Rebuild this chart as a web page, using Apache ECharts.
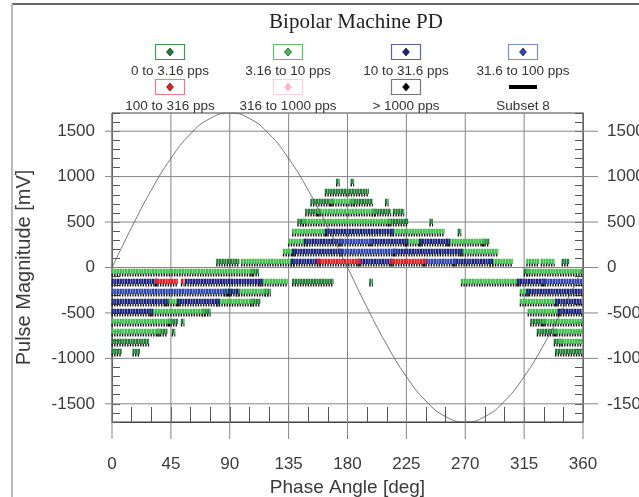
<!DOCTYPE html>
<html>
<head>
<meta charset="utf-8">
<title>Bipolar Machine PD</title>
<script src="https://cdn.jsdelivr.net/npm/echarts@6/dist/echarts.min.js"></script>
<style>
    html, body { margin: 0; padding: 0; background: #fff; }
    #chart { width: 639px; height: 497px; }
</style>
</head>
<body>
<div id="chart"></div>
<script>
// each run of pulses is [phase from, phase to, magnitude mV]
var rate0 = [ // 0 to 3.16 pps
    [172.6, 172.6, 935], [183.7, 183.7, 935],
    [164, 195, 825],
    [153, 168, 715], [184, 198, 715], [210, 210, 715],
    [149, 158, 605], [200, 212, 605], [216, 222, 605],
    [143, 147, 495], [212, 225, 495], [244, 244, 495],
    [265.6, 265.6, 385],
    [284, 287, 275],
    [81, 96, 55], [345, 348, 55],
    [107, 111, -55], [316, 318, -55],
    [139, 168, -165], [198, 198, -165],
    [118, 120, -275],
    [107, 112, -385],
    [70, 74, -495],
    [44, 49, -605], [54, 54, -605], [321, 330, -605],
    [36, 41, -715], [47, 47, -715], [326, 339, -715],
    [1, 27, -825], [339, 343, -825],
    [1, 6, -935], [17, 20, -935], [340, 358, -935]
];
var rate1 = [ // 3.16 to 10 pps
    [168, 184, 715],
    [158, 200, 605],
    [147, 212, 495],
    [139, 164, 385], [214, 253, 385],
    [136, 148, 275], [225, 236, 275], [257, 284, 275],
    [132, 139, 165], [267, 294, 165],
    [100, 138, 55], [290, 305, 55], [318, 325, 55], [329, 337, 55],
    [1, 107, -55], [318, 358, -55],
    [114, 133, -165], [268, 311, -165],
    [87, 90, -275], [96, 118, -275], [313, 318, -275],
    [42, 51, -385], [81, 107, -385], [313, 340, -385],
    [30, 70, -495], [319, 342, -495],
    [1, 44, -605], [330, 358, -605],
    [1, 36, -715], [339, 358, -715],
    [343, 358, -825]
];
var rate2 = [ // 10 to 31.6 pps
    [164, 214, 385],
    [148, 175, 275], [198, 225, 275], [236, 257, 275],
    [139, 175, 165], [216, 267, 165],
    [138, 158, 55], [189, 214, 55], [262, 290, 55],
    [1, 34, -165], [57, 114, -165], [311, 330, -165],
    [90, 96, -275], [318, 358, -275],
    [1, 42, -385], [51, 81, -385], [340, 358, -385],
    [1, 30, -495], [342, 358, -495]
];
var rate3 = [ // 31.6 to 100 pps
    [175, 198, 275],
    [175, 216, 165],
    [239, 262, 55],
    [330, 358, -165],
    [1, 87, -275]
];
var rate4 = [ // 100 to 316 pps
    [158, 189, 55], [214, 239, 55],
    [34, 49, -165], [54, 54, -165]
];
var rate5 = []; // 316 to 1000 pps
var rate6 = []; // > 1000 pps
var subset8 = [
    [0, 0], [15, 440], [30, 850], [45, 1200], [60, 1470], [75, 1640], [90, 1700],
    [105, 1640], [120, 1470], [135, 1200], [150, 850], [165, 440], [180, 0],
    [195, -440], [210, -850], [225, -1200], [240, -1470], [255, -1640], [270, -1700],
    [285, -1640], [300, -1470], [315, -1200], [330, -850], [345, -440], [360, 0]
];
var legendNames = ['0 to 3.16 pps', '3.16 to 10 pps', '10 to 31.6 pps', '31.6 to 100 pps',
    '100 to 316 pps', '316 to 1000 pps', '> 1000 pps', 'Subset 8'];
var xGridLines = [0, 45, 90, 135, 180, 225, 270, 315, 360];
var yGridLines = [-1500, -1000, -500, 0, 500, 1000, 1500];

var dotColors = ['#1b7f34', '#3dc24c', '#1a2383', '#2f44b5', '#ec1c24', '#ffb6c6', '#000000'],
    boxColors = ['#3d9b52', '#5cc468', '#5a62aa', '#7d8ad6', '#f07a86', '#ffd0d8', '#777777'],
    runs = [rate0, rate1, rate2, rate3, rate4, rate5, rate6],
    font = '"Liberation Sans", Arial, sans-serif',
    labelColor = '#3a3a3a';

var chart = echarts.init(document.getElementById('chart'));

var runItem = function (color) {
    return function (params, api) {
        var a = api.coord([api.value(0), api.value(2)]),
            b = api.coord([api.value(1), api.value(2)]),
            x1 = a[0] - 1.8, x2 = b[0] + 1.8, y = a[1];
        return {
            type: 'group',
            children: [
                {type: 'line', shape: {x1: x1, y1: y - 1.2, x2: x2, y2: y - 1.2},
                    style: {stroke: color, lineWidth: 5.2, lineDash: [2.3, 0.4]}},
                {type: 'line', shape: {x1: x1, y1: y + 2.6, x2: x2, y2: y + 2.6},
                    style: {stroke: '#141414', lineWidth: 2.6, lineDash: [1.4, 1.2]}}
            ]
        };
    };
};

var vLine = function (params, api) {
    var top = api.coord([api.value(0), 1700]),
        bottom = api.coord([api.value(0), -1700]);
    return {type: 'line', shape: {x1: top[0], y1: top[1], x2: bottom[0], y2: bottom[1] + 17},
        style: {stroke: '#858585', lineWidth: 1}};
};

var hLine = function (params, api) {
    var left = api.coord([0, api.value(1)]),
        right = api.coord([360, api.value(1)]);
    return {type: 'line', shape: {x1: left[0] - 7, y1: left[1], x2: right[0] + 15, y2: right[1]},
        style: {stroke: '#858585', lineWidth: 1}};
};

var series = [
    {type: 'custom', clip: false, silent: true, renderItem: vLine,
        data: xGridLines.map(function (v) { return [v, 0]; })},
    {type: 'custom', clip: false, silent: true, renderItem: hLine,
        data: yGridLines.map(function (v) { return [0, v]; })}
];
runs.forEach(function (data, i) {
    series.push({
        name: legendNames[i], type: 'custom', renderItem: runItem(dotColors[i]),
        encode: {x: [0, 1], y: 2}, data: data, z: 3
    });
});
series.push({
    name: legendNames[7], type: 'line', data: subset8, smooth: true, showSymbol: false,
    lineStyle: {color: '#555', width: 0.8}, z: 4, silent: true
});

// legend: boxed marker with the label under it, 4 columns by 2 rows
var cols = [170, 288, 406, 523], rows = [52, 87], graphics = [];
legendNames.forEach(function (name, i) {
    var cx = cols[i % 4], cy = rows[Math.floor(i / 4)];
    if (i < 7) {
        graphics.push({type: 'rect', shape: {x: cx - 14.5, y: cy - 7.5, width: 29, height: 15},
            style: {fill: '#fff', stroke: boxColors[i], lineWidth: 1.2}});
        graphics.push({type: 'polygon', shape: {points: [[cx, cy - 4], [cx + 3.5, cy], [cx, cy + 4], [cx - 3.5, cy]]},
            style: {fill: dotColors[i], stroke: i === 5 ? '#ffb6c6' : '#111', lineWidth: 0.6}});
    } else {
        graphics.push({type: 'rect', shape: {x: cx - 14, y: cy - 2, width: 28, height: 4},
            style: {fill: '#000'}});
    }
    graphics.push({type: 'text', x: cx, y: cy + 19,
        style: {text: name, fill: '#333', font: '13.5px ' + font, align: 'center', verticalAlign: 'middle'}});
});
graphics.push({type: 'line', shape: {x1: 12, y1: 4, x2: 639, y2: 4}, style: {stroke: '#666', lineWidth: 2}});
graphics.push({type: 'line', shape: {x1: 12, y1: 4, x2: 12, y2: 497}, style: {stroke: '#bbb', lineWidth: 2}});

var yAxisBase = function (pos, margin) {
    return {
        type: 'value', position: pos, min: -1700, max: 1700, interval: 100,
        axisLine: {show: true, onZero: false, lineStyle: {color: '#444'}},
        axisTick: {inside: true, length: 8, lineStyle: {color: '#555'}},
        axisLabel: {
            margin: margin, color: labelColor, fontSize: 17, fontFamily: font,
            formatter: function (v) { return v % 500 === 0 ? String(v) : ''; }
        },
        splitLine: {show: false}
    };
};
var leftAxis = yAxisBase('left', 17);
leftAxis.name = 'Pulse Magnitude [mV]';
leftAxis.nameLocation = 'middle';
leftAxis.nameGap = 78;
leftAxis.nameTextStyle = {fontSize: 20, fontFamily: font, color: labelColor};
var rightAxis = yAxisBase('right', 24);

chart.setOption({
    animation: false,
    backgroundColor: '#fff',
    title: {
        text: 'Bipolar Machine PD', left: 351, top: 7, textAlign: 'center',
        textStyle: {fontFamily: '"Liberation Serif", "Times New Roman", serif', fontSize: 21,
            fontWeight: 'normal', color: '#222'}
    },
    grid: {left: 112, right: 56, top: 113, bottom: 75, show: true, borderColor: '#444', borderWidth: 1,
        outerBoundsMode: 'none', containLabel: false},
    xAxis: {
        type: 'value', min: 0, max: 360, interval: 15,
        axisLine: {show: true, onZero: false, lineStyle: {color: '#444'}},
        axisTick: {inside: true, length: 15, lineStyle: {color: '#555'}},
        axisLabel: {
            margin: 34, color: labelColor, fontSize: 17, fontFamily: font,
            formatter: function (v) { return v % 45 === 0 ? String(v) : ''; }
        },
        splitLine: {show: false},
        name: 'Phase Angle [deg]', nameLocation: 'middle', nameGap: 52,
        nameTextStyle: {fontSize: 19, fontFamily: font, color: labelColor}
    },
    yAxis: [leftAxis, rightAxis],
    graphic: graphics,
    series: series
});
</script>
</body>
</html>
